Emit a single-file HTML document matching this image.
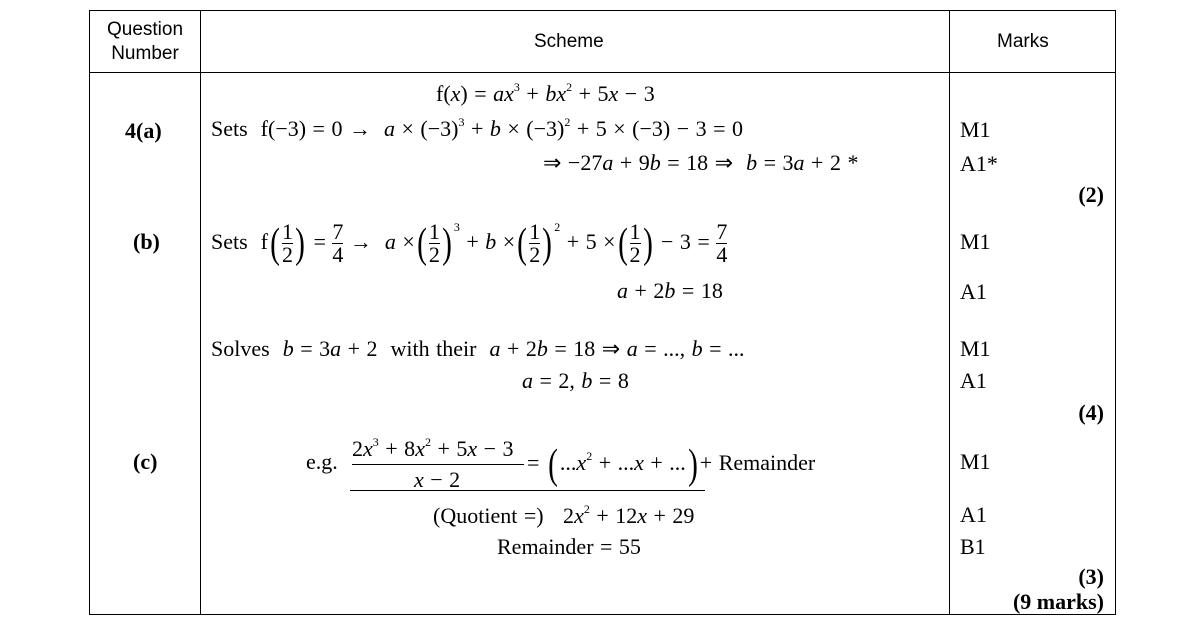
<!DOCTYPE html>
<html><head><meta charset="utf-8"><style>
body{margin:0;width:1186px;height:626px;background:#fff;position:relative;overflow:hidden;font-family:"Liberation Serif",serif;color:#000}
.a{position:absolute;white-space:nowrap;font-size:22px;line-height:22px;word-spacing:1px}
.s{font-family:"Liberation Sans",sans-serif;font-size:19px;word-spacing:0}
.b{font-weight:bold;word-spacing:0}
i{font-style:italic}
.l{position:absolute;background:#000}
.fr{display:inline-block;vertical-align:middle;text-align:center;line-height:22px}
.fr span{display:block}
.fr .n{border-bottom:1px solid #000}
.p{font-size:42px;vertical-align:middle;transform:scaleX(0.7);display:inline-block;font-weight:100}
sup{font-size:12px;line-height:0;vertical-align:0;position:relative;top:-10px}
</style></head><body>
<div class="l" style="left:89px;top:10px;width:1027px;height:1px"></div>
<div class="l" style="left:89px;top:72px;width:1027px;height:1px"></div>
<div class="l" style="left:89px;top:614px;width:1027px;height:1px"></div>
<div class="l" style="left:89px;top:10px;width:1px;height:605px"></div>
<div class="l" style="left:200px;top:10px;width:1px;height:605px"></div>
<div class="l" style="left:949px;top:10px;width:1px;height:605px"></div>
<div class="l" style="left:1115px;top:10px;width:1px;height:605px"></div>

<div class="a s" style="left:100px;top:19px;width:90px;text-align:center">Question</div>
<div class="a s" style="left:100px;top:43px;width:90px;text-align:center">Number</div>
<div class="a s" style="left:534px;top:31px">Scheme</div>
<div class="a s" style="left:997px;top:31px">Marks</div>

<div class="a" style="left:436px;top:83px">f(<i>x</i>) = <i>ax</i><sup>3</sup> + <i>bx</i><sup>2</sup> + 5<i>x</i> − 3</div>
<div class="a b" style="left:125px;top:120px">4(a)</div>
<div class="a" style="left:211px;top:118px">Sets &nbsp;f(−3) = 0 → &nbsp;<i>a</i> × (−3)<sup>3</sup> + <i>b</i> × (−3)<sup>2</sup> + 5 × (−3) − 3 = 0</div>
<div class="a" style="left:543px;top:152px">⇒ −27<i>a</i> + 9<i>b</i> = 18 ⇒ &nbsp;<i>b</i> = 3<i>a</i> + 2 *</div>
<div class="a" style="left:960px;top:119px">M1</div>
<div class="a" style="left:960px;top:153px">A1*</div>
<div class="a b" style="left:1060px;top:184px;width:44px;text-align:right">(2)</div>

<div class="a b" style="left:133px;top:231px">(b)</div>
<div class="a" style="left:211px;top:218px;line-height:48px">Sets &nbsp;f<span class="p">(</span><span class="fr"><span class="n">1</span><span>2</span></span><span class="p">)</span> = <span class="fr"><span class="n">7</span><span>4</span></span> → &nbsp;<i>a</i> ×<span class="p">(</span><span class="fr"><span class="n">1</span><span>2</span></span><span class="p">)</span><sup style="top:-18px">3</sup> + <i>b</i> ×<span class="p">(</span><span class="fr"><span class="n">1</span><span>2</span></span><span class="p">)</span><sup style="top:-18px">2</sup> + 5 ×<span class="p">(</span><span class="fr"><span class="n">1</span><span>2</span></span><span class="p">)</span> − 3 = <span class="fr"><span class="n">7</span><span>4</span></span></div>
<div class="a" style="left:617px;top:280px"><i>a</i> + 2<i>b</i> = 18</div>
<div class="a" style="left:960px;top:231px">M1</div>
<div class="a" style="left:960px;top:281px">A1</div>

<div class="a" style="left:211px;top:338px">Solves &nbsp;<i>b</i> = 3<i>a</i> + 2 &nbsp;with their &nbsp;<i>a</i> + 2<i>b</i> = 18 ⇒ <i>a</i> = ..., <i>b</i> = ...</div>
<div class="a" style="left:522px;top:370px"><i>a</i> = 2, <i>b</i> = 8</div>
<div class="a" style="left:960px;top:338px">M1</div>
<div class="a" style="left:960px;top:370px">A1</div>
<div class="a b" style="left:1060px;top:402px;width:44px;text-align:right">(4)</div>

<div class="a b" style="left:133px;top:451px">(c)</div>
<div class="a" style="left:306px;top:451px">e.g.</div>
<div class="a" style="left:352px;top:438px">2<i>x</i><sup>3</sup> + 8<i>x</i><sup>2</sup> + 5<i>x</i> − 3</div>
<div class="l" style="left:352px;top:464px;width:172px;height:1px"></div>
<div class="a" style="left:414px;top:469px"><i>x</i> − 2</div>
<div class="a" style="left:527px;top:439px;line-height:48px">= <span class="p">(</span>...<i>x</i><sup>2</sup> + ...<i>x</i> + ...<span class="p">)</span>+ Remainder</div>
<div class="l" style="left:350px;top:490px;width:355px;height:1px"></div>
<div class="a" style="left:433px;top:505px">(Quotient =) &nbsp;&nbsp;2<i>x</i><sup>2</sup> + 12<i>x</i> + 29</div>
<div class="a" style="left:497px;top:536px">Remainder = 55</div>
<div class="a" style="left:960px;top:451px">M1</div>
<div class="a" style="left:960px;top:504px">A1</div>
<div class="a" style="left:960px;top:536px">B1</div>
<div class="a b" style="left:1060px;top:566px;width:44px;text-align:right">(3)</div>
<div class="a b" style="left:990px;top:591px;width:114px;text-align:right">(9 marks)</div>
</body></html>
